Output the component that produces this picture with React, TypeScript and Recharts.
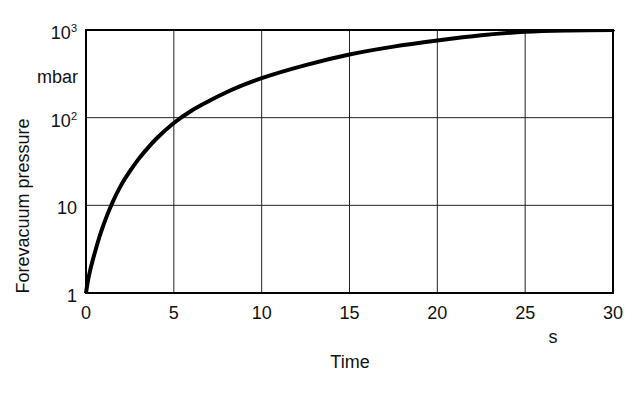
import React from 'react';
import { LineChart, Line, XAxis, YAxis, CartesianGrid, ReferenceArea, Label } from 'recharts';

const timeS = [0, 0.1, 0.25, 0.5, 0.75, 1, 1.5, 2, 2.5, 3, 3.5, 4, 5, 6, 7, 8, 10, 12.5, 15, 17.5, 20, 22.5, 25, 27.5, 30];
const pressureMbar = [1, 1.35, 1.86, 2.88, 4.27, 6.03, 10.7, 17, 24.5, 33.9, 44.7, 57.5, 87, 120, 155, 195, 282, 398, 525, 646, 759, 871, 955, 989, 1000];

const xTicks = [0, 5, 10, 15, 20, 25, 30];
const yTicks = [1, 10, 100, 1000];
const yTickBase = ['1', '10', '10', '10'];
const yTickSup = ['', '', '2', '3'];

const data = timeS.map((t, i) => ({ t, p: pressureMbar[i] }));

const FONT = '"Liberation Sans", Arial, Helvetica, sans-serif';
const FS = 18;

const XTick = (props: any) => {
  const { x, y, payload } = props;
  return (
    <text x={x} y={y + 20} textAnchor="middle" dominantBaseline="central" fontFamily={FONT} fontSize={FS} fill="#111">
      {String(payload.value)}
    </text>
  );
};

const YTick = (props: any) => {
  const { x, y, payload } = props;
  const i = yTicks.indexOf(payload.value);
  const base = yTickBase[i] ?? String(payload.value);
  const sup = yTickSup[i] ?? '';
  return (
    <text x={x - 9} y={y + 3} textAnchor="end" dominantBaseline="central" fontFamily={FONT} fontSize={FS} fill="#111">
      <tspan>{base}</tspan>
      {sup ? <tspan dy={-5} fontSize={11}>{sup}</tspan> : null}
    </text>
  );
};

const YLabels = (props: any) => {
  const vb = props.viewBox || { x: 0, y: 30, width: 86, height: 263 };
  return (
    <g>
      <text
        transform={`translate(${vb.x + 23}, ${vb.y + 176}) rotate(-90)`}
        textAnchor="middle"
        dominantBaseline="central"
        fontFamily={FONT}
        fontSize={FS}
        fill="#111"
      >
        Forevacuum pressure
      </text>
      <text x={vb.x + 78} y={vb.y + 47} textAnchor="end" dominantBaseline="central" fontFamily={FONT} fontSize={FS} fill="#111">
        mbar
      </text>
    </g>
  );
};

const XLabels = (props: any) => {
  const vb = props.viewBox || { x: 86, y: 293, width: 527, height: 105 };
  return (
    <g>
      <text x={vb.x + 467} y={vb.y + 44} textAnchor="middle" dominantBaseline="central" fontFamily={FONT} fontSize={FS} fill="#111">
        s
      </text>
      <text x={vb.x + 264} y={vb.y + 69} textAnchor="middle" dominantBaseline="central" fontFamily={FONT} fontSize={FS} fill="#111">
        Time
      </text>
    </g>
  );
};

export default function App() {
  return (
    <div style={{ position: 'absolute', left: 0, top: 0, width: 633, height: 398, background: '#fff' }}>
      <LineChart width={633} height={398} data={data} margin={{ top: 30, right: 20, bottom: 0, left: 0 }}>
        <CartesianGrid stroke="#222" strokeWidth={1} />
        <XAxis
          dataKey="t"
          type="number"
          domain={[0, 30]}
          ticks={xTicks}
          axisLine={false}
          tickLine={false}
          tickSize={0}
          tickMargin={0}
          height={105}
          tick={<XTick />}
          interval={0}
        >
          <Label content={<XLabels />} />
        </XAxis>
        <YAxis
          type="number"
          scale="log"
          domain={[1, 1000]}
          ticks={yTicks}
          allowDataOverflow
          axisLine={false}
          tickLine={false}
          tickSize={0}
          tickMargin={0}
          width={86}
          tick={<YTick />}
          interval={0}
        >
          <Label content={<YLabels />} />
        </YAxis>
        <ReferenceArea x1={0} x2={30} y1={1} y2={1000} fill="none" stroke="#000" strokeWidth={2} ifOverflow="visible" />
        <Line
          type="monotone"
          dataKey="p"
          stroke="#000"
          strokeWidth={4}
          dot={false}
          isAnimationActive={false}
          strokeLinecap="round"
        />
      </LineChart>
    </div>
  );
}
